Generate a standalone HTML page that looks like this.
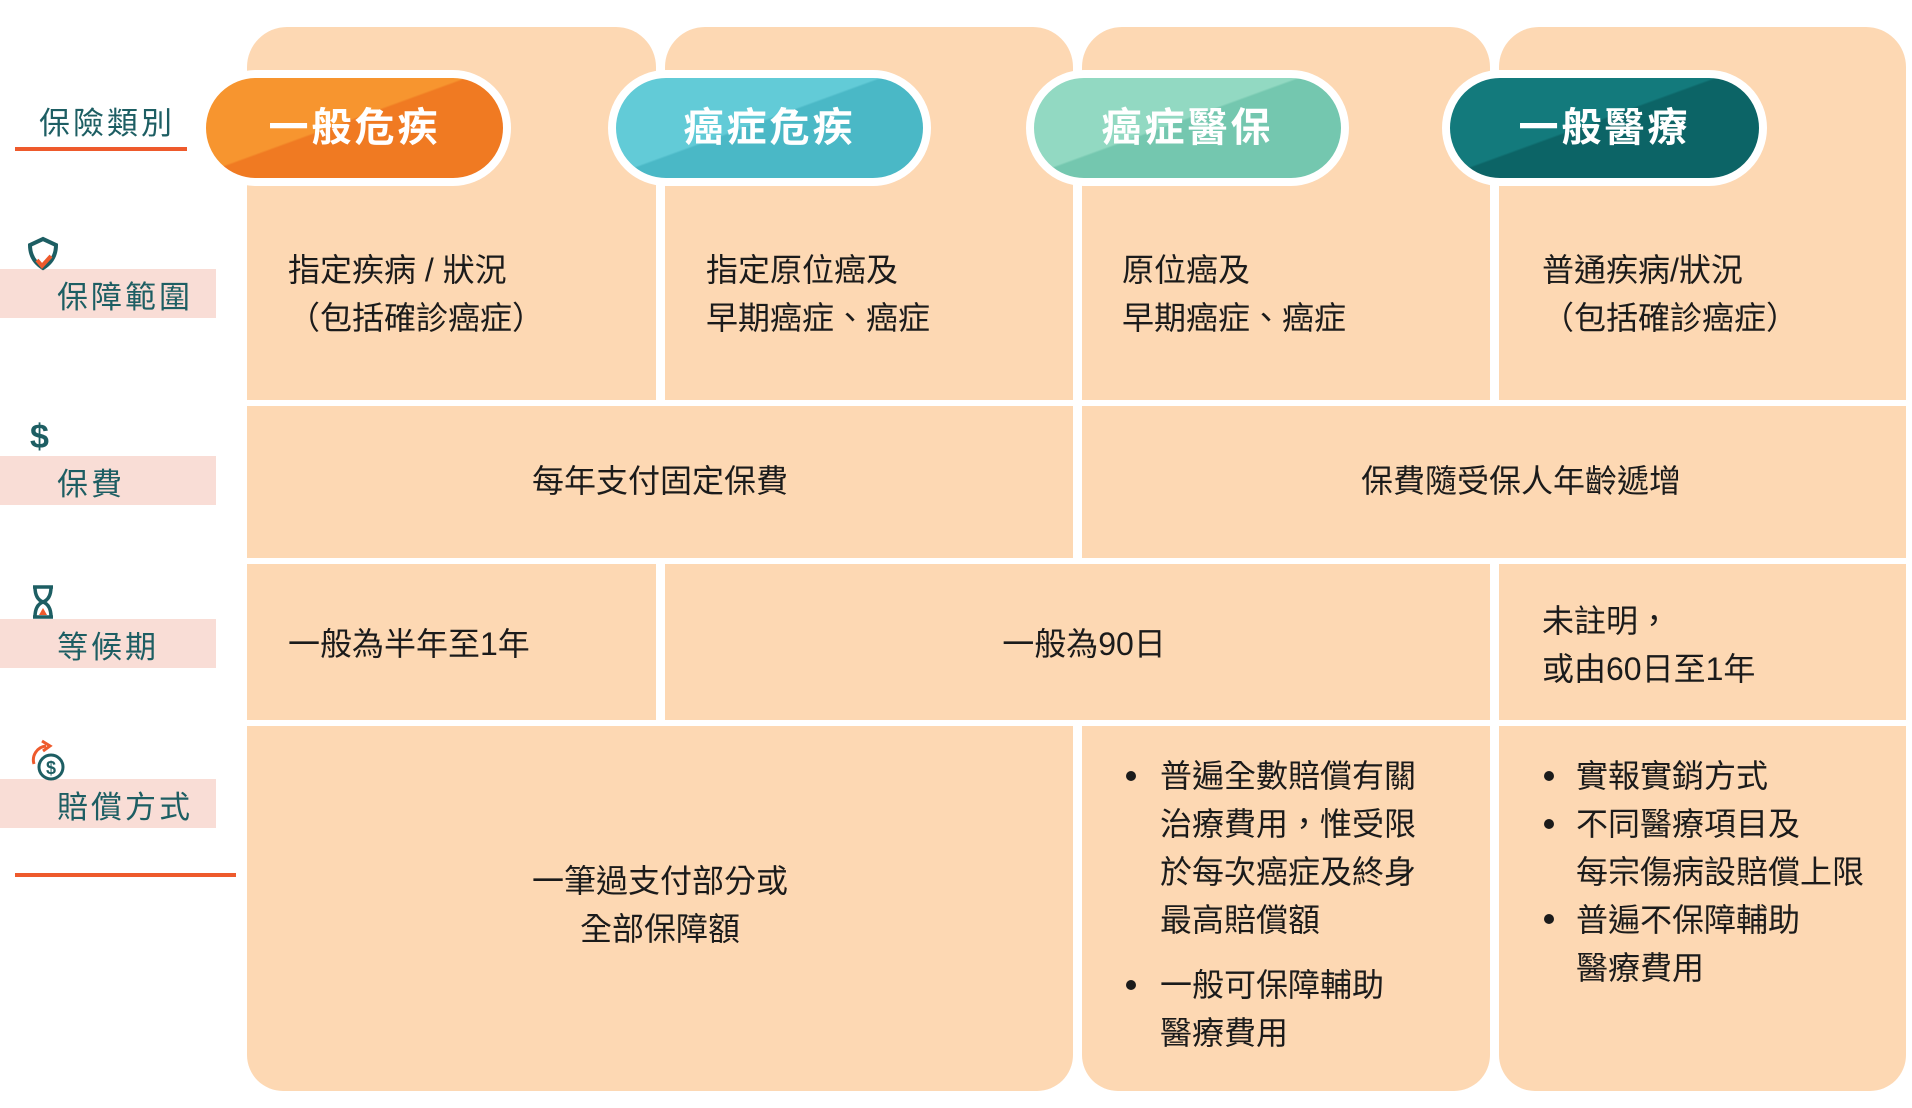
<!DOCTYPE html>
<html><head><meta charset="utf-8"><style>
body{margin:0;width:1912px;height:1108px;background:#fff;position:relative;overflow:hidden;font-family:"Liberation Sans","Noto Sans CJK TC",sans-serif;}
.c{position:absolute;background:#FDD8B3;}
.t{position:absolute;font-size:32px;color:#1b1b1b;line-height:48px;white-space:nowrap;}
.ctr{text-align:center;}
.pill{position:absolute;top:70px;height:100px;border:8px solid #fff;border-radius:60px;color:#fff;font-weight:bold;font-size:40px;text-align:center;line-height:100px;letter-spacing:3px;}
.lb{position:absolute;left:0;width:216px;height:49px;background:#F9DDD6;}
.lt{position:absolute;font-size:31px;color:#1D5E63;letter-spacing:3px;white-space:nowrap;}
.b{position:absolute;width:10px;height:10px;border-radius:50%;background:#1b1b1b;}
</style></head><body>
<!-- top tabs -->
<div class="c" style="left:247px;top:27px;width:409px;height:200px;border-radius:40px 40px 0 0"></div>
<div class="c" style="left:665px;top:27px;width:408px;height:200px;border-radius:40px 40px 0 0"></div>
<div class="c" style="left:1082px;top:27px;width:408px;height:200px;border-radius:40px 40px 0 0"></div>
<div class="c" style="left:1499px;top:27px;width:407px;height:200px;border-radius:40px 40px 0 0"></div>
<!-- row1 -->
<div class="c" style="left:247px;top:186px;width:409px;height:214px"></div>
<div class="c" style="left:665px;top:186px;width:408px;height:214px"></div>
<div class="c" style="left:1082px;top:186px;width:408px;height:214px"></div>
<div class="c" style="left:1499px;top:186px;width:407px;height:214px"></div>
<!-- row2 -->
<div class="c" style="left:247px;top:406px;width:826px;height:152px"></div>
<div class="c" style="left:1082px;top:406px;width:824px;height:152px"></div>
<!-- row3 -->
<div class="c" style="left:247px;top:564px;width:409px;height:156px"></div>
<div class="c" style="left:665px;top:564px;width:825px;height:156px"></div>
<div class="c" style="left:1499px;top:564px;width:407px;height:156px"></div>
<!-- row4 -->
<div class="c" style="left:247px;top:726px;width:826px;height:365px;border-radius:0 0 36px 36px"></div>
<div class="c" style="left:1082px;top:726px;width:408px;height:365px;border-radius:0 0 36px 36px"></div>
<div class="c" style="left:1499px;top:726px;width:407px;height:365px;border-radius:0 0 36px 36px"></div>

<!-- pills -->
<div class="pill" style="left:198px;width:297px;background:linear-gradient(160deg,#F7952F 0%,#F7952F 45%,#F07A22 46%,#F07A22 100%)">一般危疾</div>
<div class="pill" style="left:608px;width:307px;background:linear-gradient(160deg,#62CBD7 0%,#62CBD7 45%,#4AB8C6 46%,#4AB8C6 100%)">癌症危疾</div>
<div class="pill" style="left:1026px;width:307px;background:linear-gradient(160deg,#92D9C2 0%,#92D9C2 45%,#74C7AF 46%,#74C7AF 100%)">癌症醫保</div>
<div class="pill" style="left:1442px;width:309px;background:linear-gradient(160deg,#137A7C 0%,#137A7C 45%,#0C6466 46%,#0C6466 100%)">一般醫療</div>

<!-- left labels -->
<div class="lt" style="left:39px;top:98px">保險類別</div>
<div style="position:absolute;left:15px;top:147px;width:172px;height:4px;background:#EE5A2C"></div>
<div class="lb" style="top:269px"></div><div class="lt" style="left:57px;top:272px">保障範圍</div>
<div class="lb" style="top:456px"></div><div class="lt" style="left:57px;top:459px">保費</div>
<div class="lb" style="top:619px"></div><div class="lt" style="left:57px;top:622px">等候期</div>
<div class="lb" style="top:779px"></div><div class="lt" style="left:57px;top:782px">賠償方式</div>
<div style="position:absolute;left:15px;top:873px;width:221px;height:4px;background:#EE5A2C"></div>
<!-- icons -->
<svg style="position:absolute;left:26px;top:236px" width="34" height="38" viewBox="0 0 34 38"><path d="M17 3 L30 9 Q30 24 17 32 Q4 24 4 9 Z" fill="none" stroke="#1D5E63" stroke-width="4"/><path d="M11 24 L16 30 L25 20" fill="none" stroke="#EE5A2C" stroke-width="4"/></svg>
<div style="position:absolute;left:30px;top:418px;font-size:34px;font-weight:bold;color:#1D5E63">$</div>
<svg style="position:absolute;left:30px;top:584px" width="26" height="36" viewBox="0 0 26 36"><path d="M3 3 H23 M3 33 H23 M5 3 Q5 15 13 18 Q21 15 21 3 M5 33 Q5 21 13 18 Q21 21 21 33" fill="none" stroke="#1D5E63" stroke-width="3.5"/><path d="M9 31 L13 24 L17 31Z" fill="#EE5A2C"/></svg>
<svg style="position:absolute;left:26px;top:738px" width="44" height="44" viewBox="0 0 44 44"><path d="M8 26 A14 14 0 0 1 20 8" fill="none" stroke="#EE5A2C" stroke-width="3"/><path d="M16 3 L24 8 L17 13" fill="none" stroke="#EE5A2C" stroke-width="3"/><circle cx="25" cy="29" r="12" fill="none" stroke="#1D5E63" stroke-width="3"/><text x="25" y="36" font-size="18" font-weight="bold" text-anchor="middle" fill="#1D5E63" font-family="Liberation Sans">$</text></svg>

<!-- row1 text -->
<div class="t" style="left:288px;top:246px">指定疾病 / 狀況<br>（包括確診癌症）</div>
<div class="t" style="left:706px;top:246px">指定原位癌及<br>早期癌症、癌症</div>
<div class="t" style="left:1122px;top:246px">原位癌及<br>早期癌症、癌症</div>
<div class="t" style="left:1542px;top:246px">普通疾病/狀況<br>（包括確診癌症）</div>
<!-- row2 -->
<div class="t ctr" style="left:247px;width:826px;top:457px">每年支付固定保費</div>
<div class="t ctr" style="left:1082px;width:878px;top:457px">保費隨受保人年齡遞增</div>
<!-- row3 -->
<div class="t" style="left:288px;top:620px">一般為半年至1年</div>
<div class="t ctr" style="left:665px;width:838px;top:620px">一般為90日</div>
<div class="t" style="left:1542px;top:597px">未註明，<br>或由60日至1年</div>
<!-- row4 -->
<div class="t ctr" style="left:247px;width:826px;top:857px">一筆過支付部分或<br>全部保障額</div>
<div class="b" style="left:1126px;top:771px"></div>
<div class="t" style="left:1160px;top:752px">普遍全數賠償有關<br>治療費用，惟受限<br>於每次癌症及終身<br>最高賠償額</div>
<div class="b" style="left:1126px;top:980px"></div>
<div class="t" style="left:1160px;top:961px">一般可保障輔助<br>醫療費用</div>
<div class="b" style="left:1544px;top:771px"></div>
<div class="b" style="left:1544px;top:819px"></div>
<div class="b" style="left:1544px;top:914px"></div>
<div class="t" style="left:1576px;top:752px">實報實銷方式<br>不同醫療項目及<br>每宗傷病設賠償上限<br>普遍不保障輔助<br>醫療費用</div>
</body></html>
